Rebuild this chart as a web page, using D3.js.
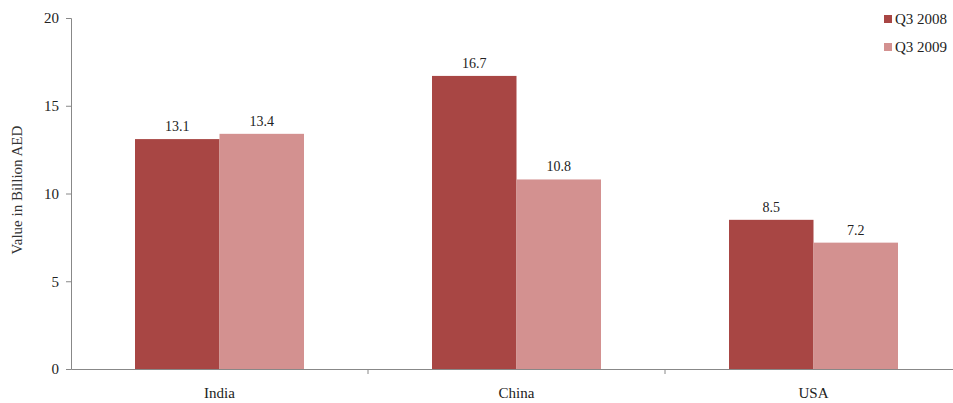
<!DOCTYPE html>
<html>
<head>
<meta charset="utf-8">
<script src="https://cdn.jsdelivr.net/npm/d3@7"></script>
<style>
  body { margin: 0; background: #fff; }
  text { font-family: "Liberation Serif", "Times New Roman", serif; }
</style>
</head>
<body>
<svg id="chart" width="953" height="403"></svg>
<script>
// chart data
var countries = ["India", "China", "USA"];
var seriesNames = ["Q3 2008", "Q3 2009"];
var q3_2008 = [13.1, 16.7, 8.5];
var q3_2009 = [13.4, 10.8, 7.2];
var yTicks = [0, 5, 10, 15, 20];
var colors = ["#a84644", "#d39190"];

var svg = d3.select("#chart");
var plotLeft = 71, plotRight = 962, plotTop = 18, plotBottom = 369;

var x = d3.scaleBand().domain(countries).range([plotLeft, plotRight])
    .paddingInner(0.431).paddingOuter(0.2155);
var x1 = d3.scaleBand().domain(seriesNames).range([0, x.bandwidth()]);
var y = d3.scaleLinear().domain([0, 20]).range([plotBottom, plotTop]);

var rows = countries.map(function (c, i) {
    return { name: c, values: [q3_2008[i], q3_2009[i]] };
});

// bars
var groups = svg.selectAll(".group")
    .data(rows)
    .enter().append("g")
    .attr("transform", function (d) { return "translate(" + x(d.name) + ",0)"; });

groups.selectAll("rect")
    .data(function (d) { return d.values.map(function (v, j) { return { s: seriesNames[j], v: v, j: j }; }); })
    .enter().append("rect")
    .attr("x", function (d) { return x1(d.s); })
    .attr("y", function (d) { return y(d.v); })
    .attr("width", x1.bandwidth())
    .attr("height", function (d) { return y(0) - y(d.v); })
    .attr("fill", function (d) { return colors[d.j]; });

groups.selectAll(".lbl")
    .data(function (d) { return d.values.map(function (v, j) { return { s: seriesNames[j], v: v }; }); })
    .enter().append("text")
    .attr("x", function (d) { return x1(d.s) + x1.bandwidth() / 2; })
    .attr("y", function (d) { return y(d.v) - 8; })
    .attr("text-anchor", "middle")
    .style("font-size", "14px")
    .style("fill", "#222")
    .text(function (d) { return d.v.toFixed(1); });

// y axis
var yAxis = svg.append("g")
    .attr("transform", "translate(" + plotLeft + ",0)")
    .call(d3.axisLeft(y).tickValues(yTicks).tickSize(5).tickPadding(7));
yAxis.select(".domain").attr("stroke", "#888");
yAxis.selectAll(".tick line").attr("stroke", "#888");
yAxis.selectAll(".tick text")
    .style("font-family", "Liberation Serif, serif")
    .style("font-size", "15px").attr("fill", "#222");

// x axis
var xAxis = svg.append("g")
    .attr("transform", "translate(0," + plotBottom + ")")
    .call(d3.axisBottom(x).tickSize(0).tickPadding(18));
xAxis.select(".domain").attr("stroke", "#888");
xAxis.selectAll(".tick text")
    .style("font-family", "Liberation Serif, serif")
    .style("font-size", "15px").attr("fill", "#222");
// separators between categories
var step = x.step();
xAxis.selectAll(".sep")
    .data(countries.slice(1))
    .enter().append("line")
    .attr("x1", function (d) { return x(d) - x.paddingInner() * step / 2; })
    .attr("x2", function (d) { return x(d) - x.paddingInner() * step / 2; })
    .attr("y1", 0).attr("y2", 5)
    .attr("stroke", "#888");

// y title
svg.append("text")
    .attr("transform", "translate(22,190) rotate(-90)")
    .attr("text-anchor", "middle")
    .style("font-size", "15px")
    .style("fill", "#333")
    .text("Value in Billion AED");

// legend
var legend = svg.selectAll(".legend")
    .data(seriesNames)
    .enter().append("g")
    .attr("transform", function (d, i) { return "translate(884," + (15 + i * 28) + ")"; });
legend.append("rect").attr("width", 8).attr("height", 8)
    .attr("fill", function (d, i) { return colors[i]; });
legend.append("text").attr("x", 11).attr("y", 9)
    .style("font-size", "15px").style("fill", "#222")
    .text(function (d) { return d; });
</script>
</body>
</html>
